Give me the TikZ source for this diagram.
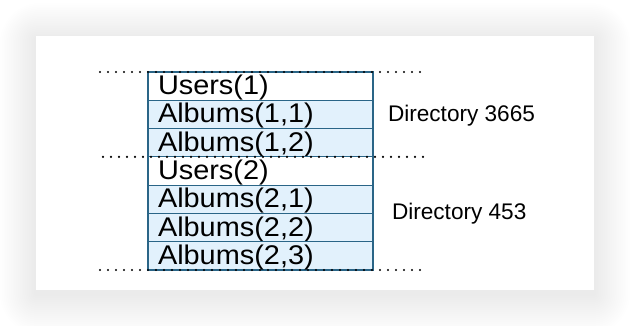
\documentclass[tikz,border=0pt]{standalone}
\usepackage{fontspec}
\setmainfont{Liberation Sans}
\newfontfamily\cellfont[FakeStretch=1.07]{Liberation Sans}
\usetikzlibrary{positioning}
\definecolor{rowfill}{HTML}{E2F1FC}
\definecolor{rowline}{HTML}{2A6587}
\tikzset{row/.style={draw=rowline, line width=1.2pt, fill=white,
    minimum width=225pt, minimum height=28.29pt, inner xsep=10pt, inner ysep=0pt,
    text width=205pt, align=left, text height=20pt, text depth=3pt,
    font=\cellfont\fontsize{27}{28}\selectfont},
  album/.style={row, fill=rowfill},
  split/.style={line width=2.3pt, line cap=round, dash pattern=on 0pt off 8pt}}

\begin{document}
\begin{tikzpicture}[x=1pt, y=-1pt,
    every node/.style={outer sep=0pt}]
  \useasboundingbox (0,0) rectangle (630,326);
  % soft shadow under the card
  \foreach \r in {2,4,...,40}
    \fill[black, opacity=0.0045, rounded corners=\r pt]
      (36-0.9*\r,39-0.9*\r) rectangle (594+0.9*\r,294+\r);
  \fill[white] (36,36) rectangle (594,290);

  \node[row, anchor=north west] (u1) at (148,72) {Users(1)};
  \node[album, below=0pt of u1] (a11) {Albums(1,1)};
  \node[album, below=0pt of a11] (a12) {Albums(1,2)};
  \node[row, below=0pt of a12] (u2) {Users(2)};
  \node[album, below=0pt of u2] (a21) {Albums(2,1)};
  \node[album, below=0pt of a21] (a22) {Albums(2,2)};
  \node[album, below=0pt of a22] (a23) {Albums(2,3)};

  % directory boundaries
  \draw[split] ([xshift=-48pt]u1.north west) -- ([xshift=50pt]u1.north east);
  \draw[split] ([xshift=-45pt]u2.north west) -- ([xshift=53pt]u2.north east);
  \draw[split] ([xshift=-48pt]a23.south west) -- ([xshift=50pt]a23.south east);

  \node[anchor=west, inner sep=0pt, font=\fontsize{22.6}{24}\selectfont,
    xshift=15pt, yshift=-1.5pt] (d1) at (a11.east) {Directory 3665};
  \node[anchor=west, inner sep=0pt, font=\fontsize{22.6}{24}\selectfont,
    xshift=19pt] (d2) at (a21.south east) {Directory 453};
\end{tikzpicture}
\end{document}
